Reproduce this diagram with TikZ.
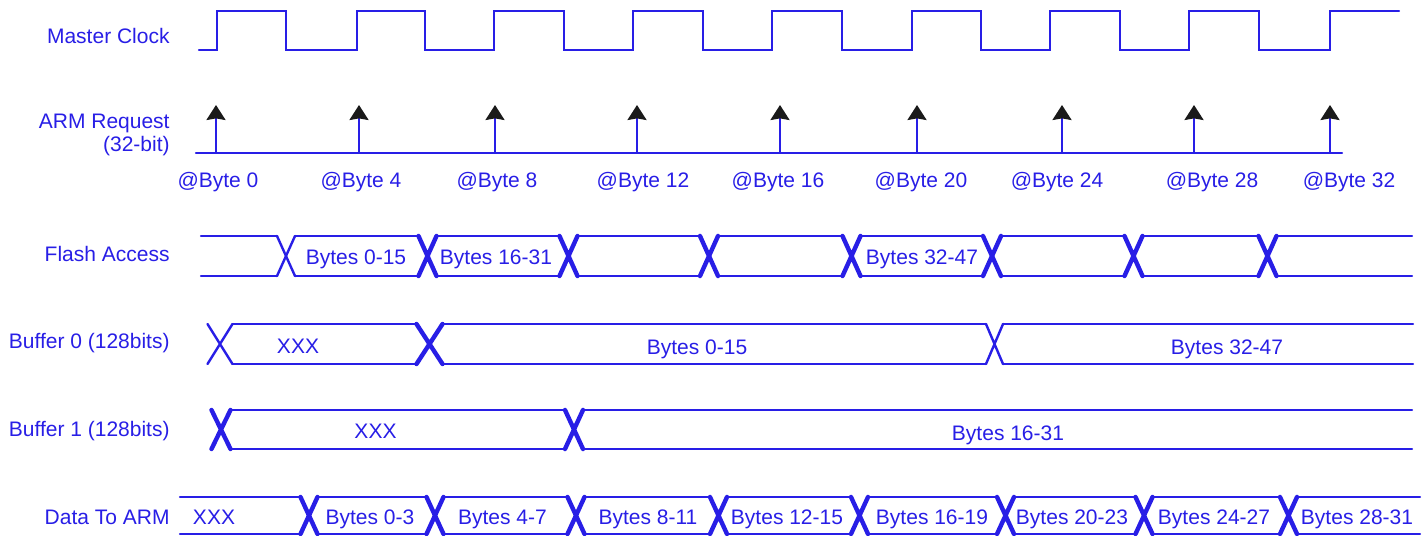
\documentclass[tikz,border=0pt]{standalone}
\usepackage{fontspec}
\setmainfont{Liberation Sans}
\usetikzlibrary{arrows.meta}
\definecolor{sigblue}{RGB}{40,30,230}
\definecolor{tipblack}{RGB}{26,26,26}
% crossing of a bus: #1 centre, #2 half width, #3 top, #4 bottom, #5 style
\newcommand\busX[5]{\draw[#5] ({#1-#2},#3) -- ({#1+#2},#4) ({#1-#2},#4) -- ({#1+#2},#3);}
% the two rails of a bus between #1 and #2, #3 top, #4 bottom
\newcommand\busH[4]{\draw[sig] (#1,#3) -- (#2,#3) (#1,#4) -- (#2,#4);}
\begin{document}
\begin{tikzpicture}[x=0.5pt,y=-0.5pt,
  sig/.style={draw=sigblue,line width=1.15pt,line cap=round,line join=miter},
  xthin/.style={draw=sigblue,line width=1.2pt,line cap=round},
  xbold/.style={draw=sigblue,line width=2.2pt,line cap=round},
  lbl/.style={text=sigblue,font=\fontsize{10.5}{12.6}\selectfont,inner sep=0pt},
  rowname/.style={lbl,anchor=base east},
  txt/.style={lbl,anchor=base},
  req/.style={draw=sigblue,line width=1.1pt,-{Stealth[length=7.5pt,width=9.5pt,inset=0.8pt,color=tipblack]}}]
\useasboundingbox (0,0) rectangle (1428,535);

% ---------- row names ----------
\node[rowname] (nclk) at (170,44) {Master Clock};
\node[rowname] (nreq1) at (170,128) {ARM Request};
\node[rowname] (nreq2) at (170,151) {(32-bit)};
\node[rowname] (nflash) at (170,261) {Flash Access};
\node[rowname] (nbuf0) at (170,348) {Buffer 0 (128bits)};
\node[rowname] (nbuf1) at (170,436) {Buffer 1 (128bits)};
\node[rowname] (ndata) at (170,524) {Data To ARM};

% ---------- master clock ----------
\draw[sig] (199,50) -- (217,50) -- (217,11) -- (286,11) -- (286,50)
  -- (357,50) -- (357,11) -- (425,11) -- (425,50)
  -- (494,50) -- (494,11) -- (564,11) -- (564,50)
  -- (633,50) -- (633,11) -- (703,11) -- (703,50)
  -- (772,50) -- (772,11) -- (842,11) -- (842,50)
  -- (912,50) -- (912,11) -- (981,11) -- (981,50)
  -- (1050,50) -- (1050,11) -- (1120,11) -- (1120,50)
  -- (1189,50) -- (1189,11) -- (1259,11) -- (1259,50)
  -- (1330,50) -- (1330,11) -- (1399,11);

% ---------- ARM requests ----------
\draw[sig] (196,153) -- (1342,153);
\foreach \x/\l/\n in {216/218/0, 359/361/4, 495/497/8, 637/643/12, 780/778/16,
                     917/921/20, 1062/1057/24, 1194/1212/28, 1330/1349/32} {
  \coordinate (rb\n) at (\x,153);
  \coordinate (rt\n) at (\x,105);
  \draw[req] (rb\n) -- (rt\n);
  \node[txt] (at\n) at (\l,187) {@Byte \n};
}

% ---------- Flash Access ----------
\busH{201}{277}{236}{276}
\busX{286}{9}{236}{276}{xthin}
\busH{295}{418.5}{236}{276}
\busX{427.5}{9}{236}{276}{xbold}
\busH{436.5}{559.5}{236}{276}
\busX{568.5}{9}{236}{276}{xbold}
\busH{577.5}{700}{236}{276}
\busX{709}{9}{236}{276}{xbold}
\busH{718}{842.5}{236}{276}
\busX{851.5}{9}{236}{276}{xbold}
\busH{860.5}{983}{236}{276}
\busX{992}{9}{236}{276}{xbold}
\busH{1001}{1124.5}{236}{276}
\busX{1133.5}{9}{236}{276}{xbold}
\busH{1142.5}{1258.5}{236}{276}
\busX{1267.5}{9}{236}{276}{xbold}
\busH{1276.5}{1412}{236}{276}
\node[txt] (f1) at (356,264) {Bytes 0-15};
\node[txt] (f2) at (496,264) {Bytes 16-31};
\node[txt] (f3) at (922,264) {Bytes 32-47};

% ---------- Buffer 0 ----------
\busX{220}{12.5}{324}{364}{xthin}
\busH{232.5}{416.5}{324}{364}
\busX{429.5}{13}{324}{364}{xbold}
\busH{442.5}{986}{324}{364}
\busX{994.5}{8.5}{324}{364}{xthin}
\busH{1003}{1413}{324}{364}
\node[txt] (b01) at (298,353) {XXX};
\node[txt] (b02) at (697,354) {Bytes 0-15};
\node[txt] (b03) at (1227,354) {Bytes 32-47};

% ---------- Buffer 1 ----------
\busX{221}{9.5}{410}{449}{xbold}
\busH{230.5}{565}{410}{449}
\busX{574}{9}{410}{449}{xbold}
\busH{583}{1412}{410}{449}
\node[txt] (b11) at (375.5,438) {XXX};
\node[txt] (b12) at (1008,440) {Bytes 16-31};

% ---------- Data To ARM ----------
\busH{180}{300.5}{497}{534}
\foreach \c in {309,435,576,718.5,859.5,1005.5,1144,1288.5} {\busX{\c}{8.5}{497}{534}{xbold}}
\foreach \a/\b in {317.5/426.5, 443.5/567.5, 584.5/710, 727/851, 868/997,
                   1014/1135.5, 1152.5/1280, 1297/1420} {\busH{\a}{\b}{497}{534}}
\node[txt] (d0) at (214,524) {XXX};
\node[txt] (d1) at (370,524) {Bytes 0-3};
\node[txt] (d2) at (502.5,524) {Bytes 4-7};
\node[txt] (d3) at (648,524) {Bytes 8-11};
\node[txt] (d4) at (787,524) {Bytes 12-15};
\node[txt] (d5) at (932,524) {Bytes 16-19};
\node[txt] (d6) at (1072,524) {Bytes 20-23};
\node[txt] (d7) at (1214,524) {Bytes 24-27};
\node[txt] (d8) at (1357,524) {Bytes 28-31};
\end{tikzpicture}
\end{document}
